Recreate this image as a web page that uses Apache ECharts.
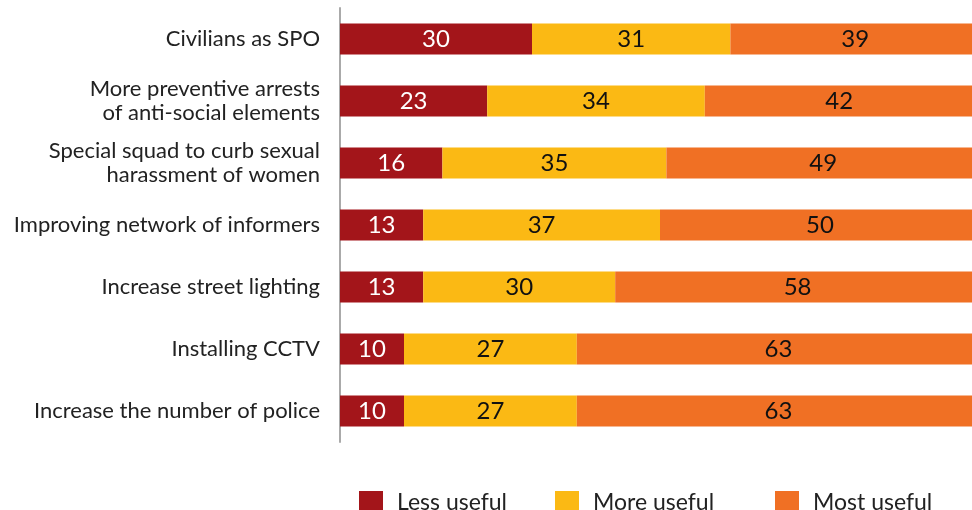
<!DOCTYPE html>
<html>
<head>
<meta charset="utf-8">
<script src="https://cdn.jsdelivr.net/npm/echarts@6/dist/echarts.min.js"></script>
<style>
  html, body { margin: 0; padding: 0; background: #fff; }
  #chart { width: 972px; height: 510px; }
</style>
</head>
<body>
<div id="chart"></div>
<script>
var categories = [
    'Civilians as SPO',
    'More preventive arrests\nof anti-social elements',
    'Special squad to curb sexual\nharassment of women',
    'Improving network of informers',
    'Increase street lighting',
    'Installing CCTV',
    'Increase the number of police'
];
var lessUseful = [30, 23, 16, 13, 13, 10, 10];
var moreUseful = [31, 34, 35, 37, 30, 27, 27];
var mostUseful = [39, 42, 49, 50, 58, 63, 63];
var legendNames = ['Less useful', 'More useful', 'Most useful'];

var myChart = echarts.init(document.getElementById('chart'));

var font = 'Lato, "Noto Sans", sans-serif';

function bar(name, data, color, labelColor) {
    return {
        name: name,
        type: 'bar',
        stack: 'total',
        barWidth: 31,
        data: data,
        itemStyle: { color: color },
        label: {
            show: true,
            position: 'inside',
            color: labelColor,
            fontSize: 24,
            fontFamily: font
        }
    };
}

// one legend per item so each sits at its own x
function legendAt(name, left) {
    return {
        left: left,
        top: 491,
        padding: 0,
        itemWidth: 24,
        itemHeight: 24,
        icon: 'rect',
        textStyle: { fontSize: 23, color: '#222', fontFamily: font, padding: [5, 0, 0, 9] },
        data: [name]
    };
}

var option = {
    animation: false,
    textStyle: { fontFamily: font },
    grid: { left: 340, top: 8, width: 640, height: 434, outerBoundsMode: 'none' },
    legend: [
        legendAt(legendNames[0], 359),
        legendAt(legendNames[1], 555),
        legendAt(legendNames[2], 775)
    ],
    xAxis: {
        type: 'value',
        min: 0,
        max: 100,
        show: false
    },
    yAxis: {
        type: 'category',
        inverse: true,
        data: categories,
        axisLine: { show: true, lineStyle: { color: '#aaa', width: 2 } },
        axisTick: { show: false },
        axisLabel: { margin: 20, fontSize: 22, color: '#222', lineHeight: 24, fontFamily: font }
    },
    series: [
        bar(legendNames[0], lessUseful, '#A3151A', '#fff'),
        bar(legendNames[1], moreUseful, '#FBB914', '#111'),
        bar(legendNames[2], mostUseful, '#F07024', '#111')
    ]
};

myChart.setOption(option);
</script>
</body>
</html>
